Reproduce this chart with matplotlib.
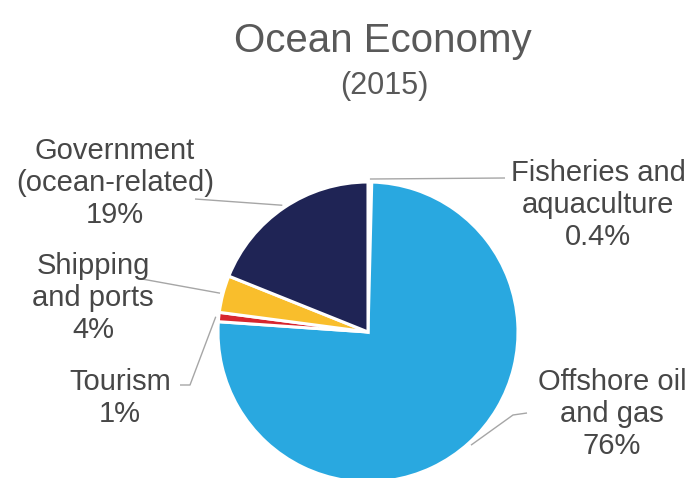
import numpy as np
import matplotlib
matplotlib.use("Agg")
import matplotlib.pyplot as plt

plt.rcParams['font.family'] = ['Liberation Sans', 'DejaVu Sans']

# data, clockwise from the top
sectors = ["Fisheries and\naquaculture", "Offshore oil\nand gas", "Tourism",
           "Shipping\nand ports", "Government\n(ocean-related)"]
shares = [0.4, 76, 1, 4, 19]
share_text = ["0.4%", "76%", "1%", "4%", "19%"]
colors = ["#ffffff", "#29a8e0", "#d7262f", "#f9be2c", "#1f2455"]

W, H = 694, 478


def px(x, y):
    # pixel coords (y down) -> data coords (y up)
    return x, H - y


fig = plt.figure(figsize=(W / 100, H / 100), dpi=100)
ax = fig.add_axes([0, 0, 1, 1])

cx, cy = px(368, 332)
R = 150
wedges, _ = ax.pie(shares, colors=colors, startangle=90, counterclock=False,
                   center=(cx, cy), radius=R, frame=True,
                   wedgeprops=dict(edgecolor='white', linewidth=2.2))
ax.set_xlim(0, W)
ax.set_ylim(0, H)
ax.set_aspect('equal')
ax.axis('off')

# label layout: text centre (px) and leader path (px) from the slice outward
layout = {
    0: ((598, 205), [(505, 178)]),
    1: ((612, 414), [(513, 415), (527, 413)]),
    2: ((120, 398), [(190, 385), (180, 385)]),
    3: ((93, 298), [(142, 279)]),
    4: ((115, 183), [(195, 199)]),
}

line_col = '#a6a6a6'
txt_col = '#474747'
for i, w in enumerate(wedges):
    mid = np.deg2rad((w.theta1 + w.theta2) / 2)
    ax_ = cx + 1.02 * R * np.cos(mid)
    ay_ = cy + 1.02 * R * np.sin(mid)
    (tx, ty), path = layout[i]
    xs = [ax_] + [px(*p)[0] for p in path]
    ys = [ay_] + [px(*p)[1] for p in path]
    ax.plot(xs, ys, color=line_col, lw=1, solid_capstyle='butt', clip_on=False)
    ax.text(*px(tx, ty), sectors[i] + "\n" + share_text[i], ha='center', va='center',
            multialignment='center', fontsize=21, color=txt_col, linespacing=1.2)

ax.text(*px(383, 52), "Ocean Economy", ha='center', va='baseline',
        fontsize=29, color='#595959')
ax.text(*px(384, 94), "(2015)", ha='center', va='baseline',
        fontsize=22, color='#595959')

fig.savefig("out.png", dpi=100, facecolor='white')
